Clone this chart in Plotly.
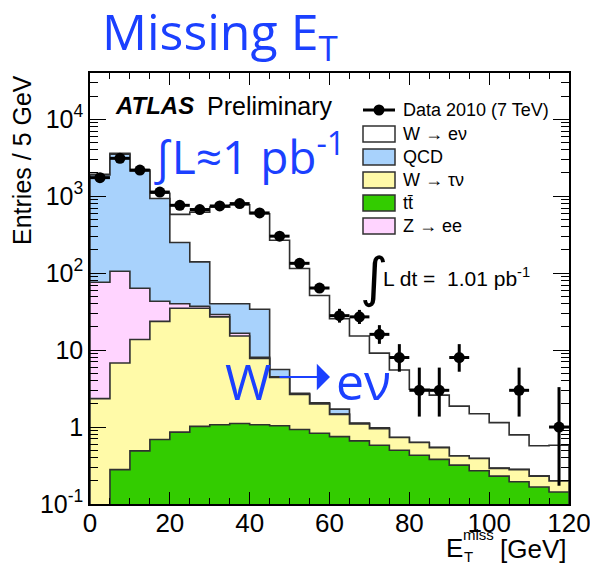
import math
import numpy as np
import plotly.graph_objects as go

# ---------------------------------------------------------------- data
bin_edges = list(range(0, 125, 5))  # E_T^miss bins [GeV]

data_counts = [1740, 3100, 2180, 1130, 760, 670, 745, 800, 605, 302, 134, 64,
               28, 27, 16, 8, 3, 3, 8, 0, 0, 3, 0, 1]

mc_ttbar = [0.0, 0.28, 0.49, 0.69, 0.86, 1.02, 1.07, 1.11, 1.07, 1.04, 0.93, 0.83,
            0.75, 0.66, 0.58, 0.50, 0.43, 0.38, 0.32, 0.27, 0.23, 0.195, 0.166, 0.143]
mc_wtaunu = [2.34, 6.5, 13.2, 22.9, 34.1, 34.0, 25.9, 14.1, 6.7, 3.36, 1.73, 1.17,
             0.71, 0.44, 0.37, 0.23, 0.20, 0.16, 0.10, 0.12, 0.06, 0.085, 0.064, 0.057]
mc_zee = [73.7, 99.0, 50.0, 19.4, 5.0, 2.0, 2.0, 1.3, 0.3, 0.1, 0.03, 0.02,
          0.01, 0.01, 0.005, 0.0, 0.0, 0.0, 0.0, 0.0, 0.0, 0.0, 0.0, 0.0]
mc_qcd = [1804, 3394, 2056, 887, 210, 103, 11, 23.5, 25.9, 1.1, 0.05, 0.05,
          0.24, 0.02, 0.02, 0.0, 0.0, 0.0, 0.0, 0.0, 0.0, 0.0, 0.0, 0.0]
mc_wenu = [40, 90, 80, 160, 330, 480, 680, 730, 556, 262, 112, 49,
           23.8, 14.1, 8.15, 4.77, 2.47, 2.06, 1.45, 1.1, 0.85, 0.51, 0.34, 0.38]

legend_labels = ["Data 2010 (7 TeV)", "W \u2192 e\u03bd", "QCD", "W \u2192 \u03c4\u03bd",
                 "tt\u0304", "Z \u2192 ee"]

y_tick_vals = [0.1, 1, 10, 100, 1000, 10000]
y_tick_text = ["10<sup>-1</sup>", "1", "10", "10<sup>2</sup>", "10<sup>3</sup>", "10<sup>4</sup>"]
x_tick_vals = [0, 20, 40, 60, 80, 100, 120]

# ---------------------------------------------------------------- style
C_TT = "#33cc00"
C_WTAU = "#fffaa8"
C_ZEE = "#ffd4ff"
C_QCD = "#a8d2fc"
C_WENU = "#ffffff"
C_EDGE = "#303030"
BLUE = "#1b40ff"
ROOTFONT = "Liberation Sans, Arial, sans-serif"
SLIDEFONT = "Open Sans, Noto Sans, sans-serif"

W, H = 590, 565
ML, MR, MT, MB = 90, 21, 73, 61
PW, PH = W - ML - MR, H - MT - MB


def px(x):
    return (x - ML) / PW


def py(y):
    return (H - MB - y) / PH


def step_polygon(edges, vals, floor):
    e = np.asarray(edges, float)
    v = np.maximum(np.asarray(vals, float), floor)
    xs = np.repeat(e, 2)
    ys = np.concatenate([[floor], np.repeat(v, 2), [floor]])
    return xs, ys


def garwood(n, cl=0.682689):
    """Central Poisson confidence interval for an observed count n."""
    alpha = (1.0 - cl) / 2.0
    logfact = np.concatenate([[0.0], np.cumsum(np.log(np.arange(1, n + 2)))])

    def cdf(k, mu):
        if k < 0:
            return 0.0
        i = np.arange(k + 1)
        return float(np.exp(i * math.log(mu) - mu - logfact[: k + 1]).sum())

    def solve(k, target, lo, hi):
        for _ in range(80):
            mid = 0.5 * (lo + hi)
            if cdf(k, mid) > target:
                lo = mid
            else:
                hi = mid
        return 0.5 * (lo + hi)

    span = 10 * math.sqrt(n) + 10
    upper = solve(n, alpha, max(n, 1e-9), n + span)
    lower = 0.0 if n == 0 else solve(n - 1, 1 - alpha, 1e-9, n)
    return lower, upper


edges = np.array(bin_edges, float)
centers = 0.5 * (edges[:-1] + edges[1:])

# cumulative stack, bottom to top
stack = [
    ("ttbar", mc_ttbar, C_TT),
    ("wtaunu", mc_wtaunu, C_WTAU),
    ("zee", mc_zee, C_ZEE),
    ("qcd", mc_qcd, C_QCD),
    ("wenu", mc_wenu, C_WENU),
]
cum = np.zeros(len(centers))
layers = []
for name, vals, col in stack:
    cum = cum + np.asarray(vals, float)
    layers.append((name, cum.copy(), col))

fig = go.Figure()
FLOOR = 1e-3
for name, top, col in reversed(layers):
    xs, ys = step_polygon(edges, top, FLOOR)
    fig.add_trace(go.Scatter(
        x=xs, y=ys, mode="lines", fill="toself", fillcolor=col,
        line=dict(color=C_EDGE, width=1.6), hoverinfo="skip", showlegend=False,
        name=name,
    ))

# data points with Poisson intervals (empty bins are not drawn)
d = np.asarray(data_counts)
mask = d > 0
err_lo, err_hi = [], []
for n in d[mask]:
    lo, hi = garwood(int(n))
    err_lo.append(n - lo)
    err_hi.append(hi - n)

fig.add_trace(go.Scatter(
    x=centers[mask], y=d[mask], mode="markers",
    marker=dict(size=11, color="black"),
    error_x=dict(type="constant", value=2.5, thickness=3, width=0, color="black"),
    error_y=dict(type="data", symmetric=False, array=err_hi, arrayminus=err_lo,
                 thickness=3, width=0, color="black"),
    showlegend=False, name="data",
))

y_minor = [k * 10.0 ** p for p in range(-1, 5) for k in range(2, 10)]

fig.update_layout(
    width=W, height=H, autosize=False,
    margin=dict(l=ML, r=MR, t=MT, b=MB, pad=0),
    paper_bgcolor="white", plot_bgcolor="white",
    showlegend=False,
    xaxis=dict(
        range=[0, 120], tickvals=x_tick_vals, ticks="inside", ticklen=12, tickwidth=1.3,
        tickcolor="black", showline=True, linecolor="black", linewidth=1.5,
        mirror="allticks", showgrid=False, zeroline=False, automargin=False,
        ticklabelstandoff=-5, ticklabeloverflow="allow",
        tickfont=dict(family=ROOTFONT, size=26, color="black"),
        minor=dict(tickvals=bin_edges, ticks="inside", ticklen=6, tickwidth=1.2,
                   tickcolor="black", showgrid=False),
    ),
    yaxis=dict(
        type="log", range=[-1, 4.6], tickvals=y_tick_vals, ticktext=y_tick_text,
        ticks="inside", ticklen=16, tickwidth=1.3, tickcolor="black",
        showline=True, linecolor="black", linewidth=1.5, mirror="allticks",
        showgrid=False, zeroline=False, automargin=False,
        ticklabeloverflow="allow",
        tickfont=dict(family=ROOTFONT, size=25, color="black"),
        minor=dict(tickvals=y_minor, ticks="inside", ticklen=8, tickwidth=1.2,
                   tickcolor="black", showgrid=False),
    ),
)

ann = []
shapes = []

# axis titles
ann.append(dict(text="Entries / 5 GeV", x=px(22), y=py(73), xref="paper", yref="paper",
                xanchor="center", yanchor="top", textangle=-90, showarrow=False,
                font=dict(family=ROOTFONT, size=25, color="black")))
ann.append(dict(text="E", x=px(444), y=py(548), xref="paper", yref="paper",
                xanchor="left", yanchor="middle", showarrow=False,
                font=dict(family=ROOTFONT, size=26, color="black")))
ann.append(dict(text="miss", x=px(461), y=py(534), xref="paper", yref="paper",
                xanchor="left", yanchor="middle", showarrow=False,
                font=dict(family=ROOTFONT, size=15, color="black")))
ann.append(dict(text="T", x=px(462), y=py(556), xref="paper", yref="paper",
                xanchor="left", yanchor="middle", showarrow=False,
                font=dict(family=ROOTFONT, size=15, color="black")))
ann.append(dict(text="[GeV]", x=px(568), y=py(549), xref="paper", yref="paper",
                xanchor="right", yanchor="middle", showarrow=False,
                font=dict(family=ROOTFONT, size=26, color="black")))

# experiment label
ann.append(dict(text="<b><i>ATLAS</i></b>", x=px(113), y=py(106),
                xref="paper", yref="paper", xanchor="left", yanchor="middle",
                showarrow=False, font=dict(family=ROOTFONT, size=24, color="black")))
ann.append(dict(text="Preliminary", x=px(205), y=py(106),
                xref="paper", yref="paper", xanchor="left", yanchor="middle",
                showarrow=False, font=dict(family=ROOTFONT, size=25, color="black")))

# luminosity label
ann.append(dict(text="\u222b", x=px(358), y=py(277), xref="paper", yref="paper",
                xanchor="left", yanchor="middle", showarrow=False,
                font=dict(family="DejaVu Sans", size=54, color="black")))
ann.append(dict(text="L dt =  1.01 pb<sup>-1</sup>", x=px(381), y=py(277),
                xref="paper", yref="paper", xanchor="left", yanchor="middle",
                showarrow=False, font=dict(family=ROOTFONT, size=21, color="black")))

# legend
rows = [110, 134, 157, 180, 203, 226]
swatches = [None, C_WENU, C_QCD, C_WTAU, C_TT, C_ZEE]
for label, yrow, col in zip(legend_labels, rows, swatches):
    if col is None:
        shapes.append(dict(type="line", xref="paper", yref="paper",
                           x0=px(363), x1=px(395), y0=py(yrow), y1=py(yrow),
                           line=dict(color="black", width=3)))
        shapes.append(dict(type="circle", xref="paper", yref="paper",
                           x0=px(373.5), x1=px(384.5), y0=py(yrow + 5.5), y1=py(yrow - 5.5),
                           fillcolor="black", line=dict(color="black", width=0)))
    else:
        shapes.append(dict(type="rect", xref="paper", yref="paper",
                           x0=px(363), x1=px(395), y0=py(yrow + 8), y1=py(yrow - 8),
                           fillcolor=col, line=dict(color=C_EDGE, width=1.5)))
    ann.append(dict(text=label, x=px(401), y=py(yrow), xref="paper", yref="paper",
                    xanchor="left", yanchor="middle", showarrow=False,
                    font=dict(family=ROOTFONT, size=18, color="black")))

# slide annotations
ann.append(dict(text="Missing E<sub>T</sub>", x=px(100), y=py(-5), xref="paper", yref="paper",
                xanchor="left", yanchor="top", showarrow=False,
                font=dict(family=SLIDEFONT, size=50, color=BLUE)))
ann.append(dict(text="\u222bL\u22481 pb<sup>-1</sup>", x=px(152), y=py(154),
                xref="paper", yref="paper", xanchor="left", yanchor="middle",
                showarrow=False, font=dict(family=SLIDEFONT, size=46, color=BLUE)))
ann.append(dict(text="W", x=px(223), y=py(381), xref="paper", yref="paper",
                xanchor="left", yanchor="middle", showarrow=False,
                font=dict(family=SLIDEFONT, size=50, color=BLUE)))
ann.append(dict(text="e\u03bd", x=px(334), y=py(381), xref="paper", yref="paper",
                xanchor="left", yanchor="middle", showarrow=False,
                font=dict(family=SLIDEFONT, size=50, color=BLUE)))
ann.append(dict(text="", x=px(330), y=py(377), xref="paper", yref="paper",
                ax=-52, ay=0, showarrow=True, arrowhead=1, arrowsize=2.2,
                arrowwidth=2, arrowcolor=BLUE))

fig.update_layout(annotations=ann, shapes=shapes)
fig.write_html("out.html")
